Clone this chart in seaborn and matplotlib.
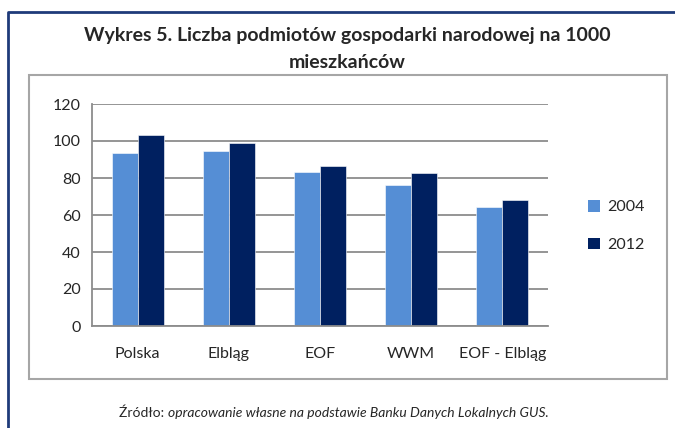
import matplotlib
matplotlib.use('Agg')
import matplotlib.pyplot as plt
from matplotlib.patches import Patch, Rectangle
from matplotlib.lines import Line2D
import seaborn as sns
import pandas as pd

# dane
regiony = ['Polska', 'Elbląg', 'EOF', 'WWM', 'EOF - Elbląg']
lata = ['2004', '2012']
wart_2004 = [93.7, 94.8, 83.1, 76.0, 64.5]
wart_2012 = [103.2, 99.1, 86.7, 82.5, 68.1]
kolory = ['#558ED5', '#002060']

data = pd.DataFrame({
    'region': regiony * 2,
    'rok': [lata[0]] * len(regiony) + [lata[1]] * len(regiony),
    'wartosc': wart_2004 + wart_2012,
})

sns.set_style('white')
plt.rcParams['font.family'] = ['Lato', 'DejaVu Sans']

W, H = 675, 428
fig = plt.figure(figsize=(W / 100, H / 100), dpi=100)

def fx(x):
    return x / W

def fy(y):
    return 1 - y / H

# ramki
fig.add_artist(Line2D([fx(8), fx(8), fx(675)], [fy(428), fy(12), fy(12)],
                      transform=fig.transFigure, color='#1F3B7A', lw=2))
fig.add_artist(Rectangle((fx(29), fy(379)), fx(667) - fx(29), fy(75) - fy(379),
                         transform=fig.transFigure, fill=False,
                         edgecolor='#A6A6A6', lw=1.5))

fig.text(fx(347), fy(36), 'Wykres 5. Liczba podmiotów gospodarki narodowej na 1000',
         ha='center', va='center', fontsize=14, fontweight='bold')
fig.text(fx(347), fy(62), 'mieszkańców', ha='center', va='center',
         fontsize=14, fontweight='bold')

ax = fig.add_axes([fx(92), fy(326), fx(548) - fx(92), fy(104) - fy(326)])
sns.barplot(data=data, x='region', y='wartosc', hue='rok', palette=kolory,
            saturation=1, width=0.57, edgecolor='white', linewidth=0.4,
            legend=False, ax=ax)

ax.set_ylim(0, 120)
ax.set_xlim(-0.5, len(regiony) - 0.5)
ax.set_yticks(range(0, 121, 20))
ax.yaxis.grid(True, color='#8C8C8C', lw=1.3)
ax.set_axisbelow(True)
ax.set_xlabel('')
ax.set_ylabel('')
for s in ['top', 'right']:
    ax.spines[s].set_visible(False)
for s in ['left', 'bottom']:
    ax.spines[s].set_color('#8C8C8C')
    ax.spines[s].set_linewidth(1.3)

ax.set_xticks([i - 0.5 for i in range(len(regiony) + 1)], minor=True)
ax.tick_params(axis='x', which='major', length=0, labelsize=11.5, pad=15)
ax.tick_params(axis='x', which='minor', length=5, width=1.3, color='#8C8C8C',
               direction='out')
ax.tick_params(axis='y', length=5, width=1.3, color='#8C8C8C', direction='out',
               labelsize=11.5, pad=3)

uchwyty = [Patch(facecolor=k, edgecolor='none') for k in kolory]
ax.legend(uchwyty, lata, loc='center left', bbox_to_anchor=(fx(574), fy(226)),
          bbox_transform=fig.transFigure, frameon=False, fontsize=11.5,
          handlelength=0.75, handleheight=0.75, handletextpad=0.4,
          labelspacing=1.45)

fig.text(fx(168), fy(413), 'Źródło: ', ha='right', va='center', fontsize=10)
fig.text(fx(168), fy(413),
         'opracowanie własne na podstawie Banku Danych Lokalnych GUS.',
         ha='left', va='center', fontsize=10, style='italic')

fig.savefig('out.png', dpi=100)
